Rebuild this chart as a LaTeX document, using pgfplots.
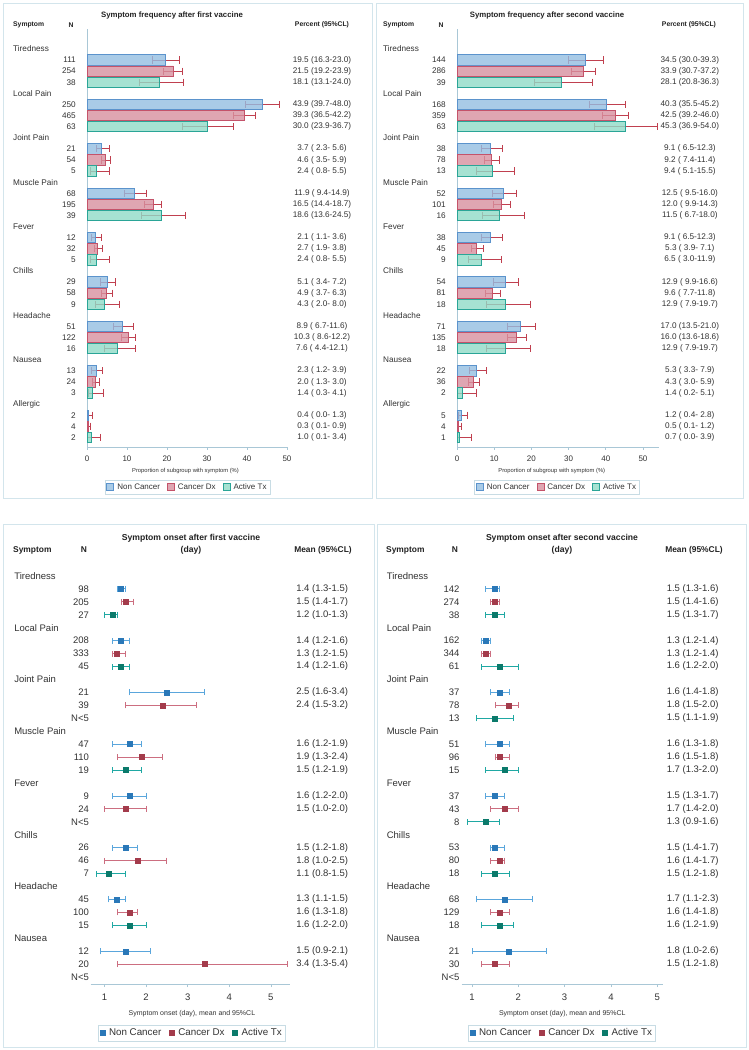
\documentclass[border=0pt]{standalone}
\usepackage{fontspec}
\setmainfont{Liberation Sans}
\usepackage{pgfplots}
\usepackage{pgfplotstable}
\pgfplotsset{compat=1.18}

\definecolor{ncf}{HTML}{94BEE2}
\definecolor{ncd}{HTML}{5B93CC}
\definecolor{cdf}{HTML}{D8909F}
\definecolor{cdd}{HTML}{C4536A}
\definecolor{atf}{HTML}{90DBC7}
\definecolor{atd}{HTML}{2AA597}
\definecolor{errc}{HTML}{C0404F}
\definecolor{ncm}{HTML}{2A78B8}
\definecolor{cdm}{HTML}{A33B4B}
\definecolor{atm}{HTML}{0B7A6B}
\definecolor{nce}{HTML}{5AA6DC}
\definecolor{cde}{HTML}{CC6E80}
\definecolor{ate}{HTML}{1FA8A3}
\definecolor{axc}{HTML}{A9C7D6}
\definecolor{framec}{HTML}{D3E5EC}
\definecolor{legc}{HTML}{C8DCE4}
\definecolor{txtc}{HTML}{333333}
\definecolor{titc}{HTML}{222222}

\newcommand{\fT}{\fontsize{8.2}{9.5}\selectfont}
\newcommand{\fTh}{\fontsize{6.8}{8}\selectfont\bfseries}
\newcommand{\fTt}{\fontsize{7.8}{9}\selectfont\bfseries}
\newcommand{\fTk}{\fontsize{8}{9.5}\selectfont}
\newcommand{\fTx}{\fontsize{5.8}{7}\selectfont}
\newcommand{\fTl}{\fontsize{8}{9.5}\selectfont}
\newcommand{\fB}{\fontsize{9.5}{11}\selectfont}
\newcommand{\fBh}{\fontsize{8.4}{10}\selectfont\bfseries}
\newcommand{\fBt}{\fontsize{8.6}{12}\selectfont\bfseries}
\newcommand{\fBk}{\fontsize{9.5}{11}\selectfont}
\newcommand{\fBx}{\fontsize{7}{8.5}\selectfont}
\newcommand{\fBl}{\fontsize{9.8}{11}\selectfont}

\pgfplotsset{
  txtplot/.style 2 args={forget plot, draw=none, mark=none, nodes near coords,
    point meta=explicit symbolic,
    every node near coord/.append style={anchor=#1, inner sep=0pt, font=#2, text=txtc}},
  common/.style={scale only axis, clip=false, ytick=\empty, anchor=north west,
    axis line style={draw=axc, line width=0.6pt}, tick style={draw=axc, line width=0.6pt},
    xtick align=outside, major tick length=3pt,
    /pgf/number format/assume math mode=true,
    tick label style={text=txtc}, legend cell align=left},
  sqlegend/.style={legend image code/.code={\draw[##1] (0pt,-3.5pt) rectangle (7pt,3.5pt);}},
  barNC/.style={xbar, bar width=10.4pt, bar shift=0pt, draw=ncd, fill=ncf, fill opacity=0.8, line width=0.9pt, sqlegend},
  barCD/.style={xbar, bar width=10.4pt, bar shift=0pt, draw=cdd, fill=cdf, fill opacity=0.8, line width=0.9pt, sqlegend},
  barAT/.style={xbar, bar width=10.4pt, bar shift=0pt, draw=atd, fill=atf, fill opacity=0.8, line width=0.9pt, sqlegend},
  errtop/.style={forget plot, draw=none, mark=none,
    /pgfplots/error bars/x dir=both, /pgfplots/error bars/x explicit,
    /pgfplots/error bars/error bar style={draw=errc, line width=0.8pt},
    /pgfplots/error bars/error mark options={rotate=90, draw=errc, mark size=3.6pt, line width=0.8pt}},
  pt/.style 2 args={only marks, mark=square*, mark size=2.5pt, color=#1,
    /pgfplots/error bars/x dir=both, /pgfplots/error bars/x explicit,
    /pgfplots/error bars/error bar style={color=#2, line width=0.8pt},
    /pgfplots/error bars/error mark options={rotate=90, color=#2, mark size=3pt, line width=0.8pt}},
}

% ---------- data ----------
\pgfplotstableread[col sep=semicolon]{
row;name
0;Tiredness
4;Local Pain
8;Joint Pain
12;Muscle Pain
16;Fever
20;Chills
24;Headache
28;Nausea
32;Allergic
}\Tn

\pgfplotstableread[col sep=semicolon]{
row;name
0;Tiredness
4;Local Pain
8;Joint Pain
12;Muscle Pain
16;Fever
20;Chills
24;Headache
28;Nausea
}\Bn

\pgfplotstableread[col sep=semicolon]{
row;s;v;lo;hi;n;txt
1;0;19.5;16.3;23.0;111;19.5 (16.3-23.0)
2;1;21.5;19.2;23.9;254;21.5 (19.2-23.9)
3;2;18.1;13.1;24.0;38;18.1 (13.1-24.0)
5;0;43.9;39.7;48.0;250;43.9 (39.7-48.0)
6;1;39.3;36.5;42.2;465;39.3 (36.5-42.2)
7;2;30.0;23.9;36.7;63;30.0 (23.9-36.7)
9;0;3.7;2.3;5.6;21;3.7 ( 2.3- 5.6)
10;1;4.6;3.5;5.9;54;4.6 ( 3.5- 5.9)
11;2;2.4;0.8;5.5;5;2.4 ( 0.8- 5.5)
13;0;11.9;9.4;14.9;68;11.9 ( 9.4-14.9)
14;1;16.5;14.4;18.7;195;16.5 (14.4-18.7)
15;2;18.6;13.6;24.5;39;18.6 (13.6-24.5)
17;0;2.1;1.1;3.6;12;2.1 ( 1.1- 3.6)
18;1;2.7;1.9;3.8;32;2.7 ( 1.9- 3.8)
19;2;2.4;0.8;5.5;5;2.4 ( 0.8- 5.5)
21;0;5.1;3.4;7.2;29;5.1 ( 3.4- 7.2)
22;1;4.9;3.7;6.3;58;4.9 ( 3.7- 6.3)
23;2;4.3;2.0;8.0;9;4.3 ( 2.0- 8.0)
25;0;8.9;6.7;11.6;51;8.9 ( 6.7-11.6)
26;1;10.3;8.6;12.2;122;10.3 ( 8.6-12.2)
27;2;7.6;4.4;12.1;16;7.6 ( 4.4-12.1)
29;0;2.3;1.2;3.9;13;2.3 ( 1.2- 3.9)
30;1;2.0;1.3;3.0;24;2.0 ( 1.3- 3.0)
31;2;1.4;0.3;4.1;3;1.4 ( 0.3- 4.1)
33;0;0.4;0.0;1.3;2;0.4 ( 0.0- 1.3)
34;1;0.3;0.1;0.9;4;0.3 ( 0.1- 0.9)
35;2;1.0;0.1;3.4;2;1.0 ( 0.1- 3.4)
}\TL

\pgfplotstableread[col sep=semicolon]{
row;s;v;lo;hi;n;txt
1;0;34.5;30.0;39.3;144;34.5 (30.0-39.3)
2;1;33.9;30.7;37.2;286;33.9 (30.7-37.2)
3;2;28.1;20.8;36.3;39;28.1 (20.8-36.3)
5;0;40.3;35.5;45.2;168;40.3 (35.5-45.2)
6;1;42.5;39.2;46.0;359;42.5 (39.2-46.0)
7;2;45.3;36.9;54.0;63;45.3 (36.9-54.0)
9;0;9.1;6.5;12.3;38;9.1 ( 6.5-12.3)
10;1;9.2;7.4;11.4;78;9.2 ( 7.4-11.4)
11;2;9.4;5.1;15.5;13;9.4 ( 5.1-15.5)
13;0;12.5;9.5;16.0;52;12.5 ( 9.5-16.0)
14;1;12.0;9.9;14.3;101;12.0 ( 9.9-14.3)
15;2;11.5;6.7;18.0;16;11.5 ( 6.7-18.0)
17;0;9.1;6.5;12.3;38;9.1 ( 6.5-12.3)
18;1;5.3;3.9;7.1;45;5.3 ( 3.9- 7.1)
19;2;6.5;3.0;11.9;9;6.5 ( 3.0-11.9)
21;0;12.9;9.9;16.6;54;12.9 ( 9.9-16.6)
22;1;9.6;7.7;11.8;81;9.6 ( 7.7-11.8)
23;2;12.9;7.9;19.7;18;12.9 ( 7.9-19.7)
25;0;17.0;13.5;21.0;71;17.0 (13.5-21.0)
26;1;16.0;13.6;18.6;135;16.0 (13.6-18.6)
27;2;12.9;7.9;19.7;18;12.9 ( 7.9-19.7)
29;0;5.3;3.3;7.9;22;5.3 ( 3.3- 7.9)
30;1;4.3;3.0;5.9;36;4.3 ( 3.0- 5.9)
31;2;1.4;0.2;5.1;2;1.4 ( 0.2- 5.1)
33;0;1.2;0.4;2.8;5;1.2 ( 0.4- 2.8)
34;1;0.5;0.1;1.2;4;0.5 ( 0.1- 1.2)
35;2;0.7;0.0;3.9;1;0.7 ( 0.0- 3.9)
}\TR

\pgfplotstableread[col sep=semicolon]{
row;s;v;lo;hi;n;txt
1;0;1.4;1.3;1.5;98;1.4 (1.3-1.5)
2;1;1.5;1.4;1.7;205;1.5 (1.4-1.7)
3;2;1.2;1.0;1.3;27;1.2 (1.0-1.3)
5;0;1.4;1.2;1.6;208;1.4 (1.2-1.6)
6;1;1.3;1.2;1.5;333;1.3 (1.2-1.5)
7;2;1.4;1.2;1.6;45;1.4 (1.2-1.6)
9;0;2.5;1.6;3.4;21;2.5 (1.6-3.4)
10;1;2.4;1.5;3.2;39;2.4 (1.5-3.2)
13;0;1.6;1.2;1.9;47;1.6 (1.2-1.9)
14;1;1.9;1.3;2.4;110;1.9 (1.3-2.4)
15;2;1.5;1.2;1.9;19;1.5 (1.2-1.9)
17;0;1.6;1.2;2.0;9;1.6 (1.2-2.0)
18;1;1.5;1.0;2.0;24;1.5 (1.0-2.0)
21;0;1.5;1.2;1.8;26;1.5 (1.2-1.8)
22;1;1.8;1.0;2.5;46;1.8 (1.0-2.5)
23;2;1.1;0.8;1.5;7;1.1 (0.8-1.5)
25;0;1.3;1.1;1.5;45;1.3 (1.1-1.5)
26;1;1.6;1.3;1.8;100;1.6 (1.3-1.8)
27;2;1.6;1.2;2.0;15;1.6 (1.2-2.0)
29;0;1.5;0.9;2.1;12;1.5 (0.9-2.1)
30;1;3.4;1.3;5.4;20;3.4 (1.3-5.4)
}\BL

\pgfplotstableread[col sep=semicolon]{
row;lab
11;N<5
19;N<5
31;N<5
}\BLx

\pgfplotstableread[col sep=semicolon]{
row;s;v;lo;hi;n;txt
1;0;1.5;1.3;1.6;142;1.5 (1.3-1.6)
2;1;1.5;1.4;1.6;274;1.5 (1.4-1.6)
3;2;1.5;1.3;1.7;38;1.5 (1.3-1.7)
5;0;1.3;1.2;1.4;162;1.3 (1.2-1.4)
6;1;1.3;1.2;1.4;344;1.3 (1.2-1.4)
7;2;1.6;1.2;2.0;61;1.6 (1.2-2.0)
9;0;1.6;1.4;1.8;37;1.6 (1.4-1.8)
10;1;1.8;1.5;2.0;78;1.8 (1.5-2.0)
11;2;1.5;1.1;1.9;13;1.5 (1.1-1.9)
13;0;1.6;1.3;1.8;51;1.6 (1.3-1.8)
14;1;1.6;1.5;1.8;96;1.6 (1.5-1.8)
15;2;1.7;1.3;2.0;15;1.7 (1.3-2.0)
17;0;1.5;1.3;1.7;37;1.5 (1.3-1.7)
18;1;1.7;1.4;2.0;43;1.7 (1.4-2.0)
19;2;1.3;0.9;1.6;8;1.3 (0.9-1.6)
21;0;1.5;1.4;1.7;53;1.5 (1.4-1.7)
22;1;1.6;1.4;1.7;80;1.6 (1.4-1.7)
23;2;1.5;1.2;1.8;18;1.5 (1.2-1.8)
25;0;1.7;1.1;2.3;68;1.7 (1.1-2.3)
26;1;1.6;1.4;1.8;129;1.6 (1.4-1.8)
27;2;1.6;1.2;1.9;18;1.6 (1.2-1.9)
29;0;1.8;1.0;2.6;21;1.8 (1.0-2.6)
30;1;1.5;1.2;1.8;30;1.5 (1.2-1.8)
}\BR

\pgfplotstableread[col sep=semicolon]{
row;lab
31;N<5
}\BRx

\begin{document}
\begin{tikzpicture}[x=1pt,y=1pt]
\useasboundingbox[fill=white] (0pt,0pt) rectangle (749pt,1050pt);
% panel frames
\draw[framec, line width=0.8pt] (3pt,1047pt) rectangle (372pt,552pt);
\draw[framec, line width=0.8pt] (376pt,1047pt) rectangle (743pt,552pt);
\draw[framec, line width=0.8pt] (3pt,526pt) rectangle (374pt,3pt);
\draw[framec, line width=0.8pt] (377pt,526pt) rectangle (746pt,3pt);

% ================= TOP LEFT =================
\begin{axis}[common, at={(87pt,1021pt)}, width=200pt, height=418pt,
  xmin=0, xmax=50, ymin=-35.86, ymax=1.8, xtick={0,10,...,50},
  axis x line*=bottom, axis y line*=left,
  tick label style={font=\fTk}, xticklabel style={yshift=-2pt},
  xlabel={Proportion of subgroup with symptom (\%)},
  xlabel style={font=\fTx, text=txtc, at={(axis description cs:0.4925,0)}, anchor=center, yshift=-24pt},
  legend style={at={(0.5025,-0.0957)}, anchor=center, legend columns=3, draw=legc,
    font=\fTl, text=txtc, inner sep=1.5pt, /tikz/every even column/.append style={column sep=5pt},
    /tikz/every odd column/.append style={column sep=1pt}}]
\addplot[errtop] table[x=v, y expr=-\thisrow{row}, x error minus expr=\thisrow{v}-\thisrow{lo}, x error plus expr=\thisrow{hi}-\thisrow{v}] {\TL};
\addplot[barNC, restrict expr to domain={\thisrow{s}}{-0.5:0.5}] table[x=v, y expr=-\thisrow{row}] {\TL};
\addlegendentry{Non Cancer}
\addplot[barCD, restrict expr to domain={\thisrow{s}}{0.5:1.5}] table[x=v, y expr=-\thisrow{row}] {\TL};
\addlegendentry{Cancer Dx}
\addplot[barAT, restrict expr to domain={\thisrow{s}}{1.5:2.5}] table[x=v, y expr=-\thisrow{row}] {\TL};
\addlegendentry{Active Tx}
\addplot[txtplot={west}{\fT}] table[x expr=-18.5, y expr=-\thisrow{row}, meta=name] {\Tn};
\addplot[txtplot={east}{\fT}] table[x expr=-2.75, y expr=-\thisrow{row}, meta=n] {\TL};
\addplot[txtplot={center}{\fT}] table[x expr=58.75, y expr=-\thisrow{row}, meta=txt] {\TL};
\end{axis}
\node[font=\fTt, text=titc] at (172pt,1035pt) {Symptom frequency after first vaccine};
\node[font=\fTh, text=titc, anchor=west, inner sep=0pt] at (13pt,1025pt) {Symptom};
\node[font=\fTh, text=titc] at (71pt,1025pt) {N};
\node[font=\fTh, text=titc] at (322pt,1025pt) {Percent (95\%CL)};

% ================= TOP RIGHT =================
\begin{axis}[common, at={(457pt,1021pt)}, width=201.6pt, height=418pt,
  xmin=0, xmax=54.2, ymin=-35.86, ymax=1.8, xtick={0,10,...,50},
  axis x line*=bottom, axis y line*=left,
  tick label style={font=\fTk}, xticklabel style={yshift=-2pt},
  xlabel={Proportion of subgroup with symptom (\%)},
  xlabel style={font=\fTx, text=txtc, at={(axis description cs:0.47,0)}, anchor=center, yshift=-24pt},
  legend style={at={(0.496,-0.0957)}, anchor=center, legend columns=3, draw=legc,
    font=\fTl, text=txtc, inner sep=1.5pt, /tikz/every even column/.append style={column sep=5pt},
    /tikz/every odd column/.append style={column sep=1pt}}]
\addplot[errtop] table[x=v, y expr=-\thisrow{row}, x error minus expr=\thisrow{v}-\thisrow{lo}, x error plus expr=\thisrow{hi}-\thisrow{v}] {\TR};
\addplot[barNC, restrict expr to domain={\thisrow{s}}{-0.5:0.5}] table[x=v, y expr=-\thisrow{row}] {\TR};
\addlegendentry{Non Cancer}
\addplot[barCD, restrict expr to domain={\thisrow{s}}{0.5:1.5}] table[x=v, y expr=-\thisrow{row}] {\TR};
\addlegendentry{Cancer Dx}
\addplot[barAT, restrict expr to domain={\thisrow{s}}{1.5:2.5}] table[x=v, y expr=-\thisrow{row}] {\TR};
\addlegendentry{Active Tx}
\addplot[txtplot={west}{\fT}] table[x expr=-19.9, y expr=-\thisrow{row}, meta=name] {\Tn};
\addplot[txtplot={east}{\fT}] table[x expr=-2.96, y expr=-\thisrow{row}, meta=n] {\TR};
\addplot[txtplot={center}{\fT}] table[x expr=62.6, y expr=-\thisrow{row}, meta=txt] {\TR};
\end{axis}
\node[font=\fTt, text=titc] at (547pt,1035pt) {Symptom frequency after second vaccine};
\node[font=\fTh, text=titc, anchor=west, inner sep=0pt] at (383pt,1025pt) {Symptom};
\node[font=\fTh, text=titc] at (441pt,1025pt) {N};
\node[font=\fTh, text=titc] at (689pt,1025pt) {Percent (95\%CL)};

% ================= BOTTOM LEFT =================
\begin{axis}[common, at={(90.7pt,487pt)}, width=199.3pt, height=421pt,
  xmin=0.67, xmax=5.46, ymin=-31.53, ymax=1, xtick={1,...,5},
  axis x line*=bottom, axis y line=none,
  tick label style={font=\fBk}, xticklabel style={yshift=-3.5pt},
  xlabel={Symptom onset (day), mean and 95\%CL},
  xlabel style={font=\fBx, text=txtc, at={(axis description cs:0.508,0)}, anchor=center, yshift=-30pt},
  legend style={at={(0.508,-0.1164)}, anchor=center, legend columns=3, draw=legc,
    font=\fBl, text=txtc, inner sep=1.5pt, /tikz/every even column/.append style={column sep=6pt},
    /tikz/every odd column/.append style={column sep=2pt}}]
\addplot[pt={ncm}{nce}, restrict expr to domain={\thisrow{s}}{-0.5:0.5}] table[x=v, y expr=-\thisrow{row}, x error minus expr=\thisrow{v}-\thisrow{lo}, x error plus expr=\thisrow{hi}-\thisrow{v}] {\BL};
\addlegendentry{Non Cancer}
\addplot[pt={cdm}{cde}, restrict expr to domain={\thisrow{s}}{0.5:1.5}] table[x=v, y expr=-\thisrow{row}, x error minus expr=\thisrow{v}-\thisrow{lo}, x error plus expr=\thisrow{hi}-\thisrow{v}] {\BL};
\addlegendentry{Cancer Dx}
\addplot[pt={atm}{ate}, restrict expr to domain={\thisrow{s}}{1.5:2.5}] table[x=v, y expr=-\thisrow{row}, x error minus expr=\thisrow{v}-\thisrow{lo}, x error plus expr=\thisrow{hi}-\thisrow{v}] {\BL};
\addlegendentry{Active Tx}
\addplot[txtplot={west}{\fB}] table[x expr=-1.171, y expr=-\thisrow{row}, meta=name] {\Bn};
\addplot[txtplot={east}{\fB}] table[x expr=0.632, y expr=-\thisrow{row}, meta=n] {\BL};
\addplot[txtplot={east}{\fB}] table[x expr=0.632, y expr=-\thisrow{row}, meta=lab] {\BLx};
\addplot[txtplot={center}{\fB}] table[x expr=6.233, y expr=-\thisrow{row}, meta=txt] {\BL};
\end{axis}
\node[font=\fBt, text=titc, align=center] at (191pt,506pt) {Symptom onset after first vaccine\\(day)};
\node[font=\fBh, text=titc, anchor=west, inner sep=0pt] at (13pt,500pt) {Symptom};
\node[font=\fBh, text=titc] at (84pt,500pt) {N};
\node[font=\fBh, text=titc] at (323pt,500pt) {Mean (95\%CL)};

% ================= BOTTOM RIGHT =================
\begin{axis}[common, at={(461.7pt,487pt)}, width=201.2pt, height=421pt,
  xmin=0.78, xmax=5.12, ymin=-31.53, ymax=1, xtick={1,...,5},
  axis x line*=bottom, axis y line=none,
  tick label style={font=\fBk}, xticklabel style={yshift=-3.5pt},
  xlabel={Symptom onset (day), mean and 95\%CL},
  xlabel style={font=\fBx, text=txtc, at={(axis description cs:0.5,0)}, anchor=center, yshift=-30pt},
  legend style={at={(0.4985,-0.1164)}, anchor=center, legend columns=3, draw=legc,
    font=\fBl, text=txtc, inner sep=1.5pt, /tikz/every even column/.append style={column sep=6pt},
    /tikz/every odd column/.append style={column sep=2pt}}]
\addplot[pt={ncm}{nce}, restrict expr to domain={\thisrow{s}}{-0.5:0.5}] table[x=v, y expr=-\thisrow{row}, x error minus expr=\thisrow{v}-\thisrow{lo}, x error plus expr=\thisrow{hi}-\thisrow{v}] {\BR};
\addlegendentry{Non Cancer}
\addplot[pt={cdm}{cde}, restrict expr to domain={\thisrow{s}}{0.5:1.5}] table[x=v, y expr=-\thisrow{row}, x error minus expr=\thisrow{v}-\thisrow{lo}, x error plus expr=\thisrow{hi}-\thisrow{v}] {\BR};
\addlegendentry{Cancer Dx}
\addplot[pt={atm}{ate}, restrict expr to domain={\thisrow{s}}{1.5:2.5}] table[x=v, y expr=-\thisrow{row}, x error minus expr=\thisrow{v}-\thisrow{lo}, x error plus expr=\thisrow{hi}-\thisrow{v}] {\BR};
\addlegendentry{Active Tx}
\addplot[txtplot={west}{\fB}] table[x expr=-0.840, y expr=-\thisrow{row}, meta=name] {\Bn};
\addplot[txtplot={east}{\fB}] table[x expr=0.735, y expr=-\thisrow{row}, meta=n] {\BR};
\addplot[txtplot={east}{\fB}] table[x expr=0.735, y expr=-\thisrow{row}, meta=lab] {\BRx};
\addplot[txtplot={center}{\fB}] table[x expr=5.762, y expr=-\thisrow{row}, meta=txt] {\BR};
\end{axis}
\node[font=\fBt, text=titc, align=center] at (562pt,506pt) {Symptom onset after second vaccine\\(day)};
\node[font=\fBh, text=titc, anchor=west, inner sep=0pt] at (386pt,500pt) {Symptom};
\node[font=\fBh, text=titc] at (455pt,500pt) {N};
\node[font=\fBh, text=titc] at (694pt,500pt) {Mean (95\%CL)};
\end{tikzpicture}
\end{document}
